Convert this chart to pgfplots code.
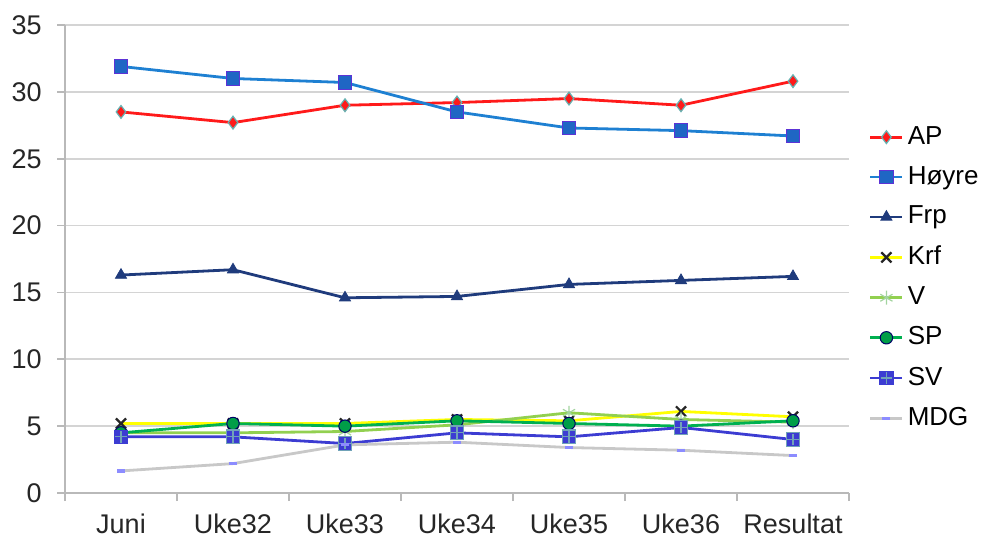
\documentclass[border=0pt]{standalone}
\usepackage{pgfplots}
\pgfplotsset{compat=1.18}
\usepackage{fontspec}
\setmainfont{Liberation Sans}
\definecolor{apred}{HTML}{FF1A1A}
\definecolor{hoyline}{HTML}{1E80D2}
\definecolor{hoyfill}{HTML}{1F66C4}
\definecolor{frpcol}{HTML}{1F3B7C}
\definecolor{krfcol}{HTML}{FFFF00}
\definecolor{vcol}{HTML}{92D050}
\definecolor{spcol}{HTML}{00B050}
\definecolor{svcol}{HTML}{3C3CD2}
\definecolor{mdgcol}{HTML}{C8C8C8}
\definecolor{gridc}{HTML}{D4D4D4}
\pgfdeclareplotmark{sqplus}{%
  \pgfpathrectangle{\pgfpoint{-\pgfplotmarksize}{-\pgfplotmarksize}}{\pgfpoint{2\pgfplotmarksize}{2\pgfplotmarksize}}%
  \pgfusepathqfillstroke
  \pgfsetstrokecolor{cyan!40!gray}%
  \pgfsetlinewidth{0.6bp}%
  \pgfpathmoveto{\pgfpoint{-0.85\pgfplotmarksize}{0pt}}\pgfpathlineto{\pgfpoint{0.85\pgfplotmarksize}{0pt}}%
  \pgfpathmoveto{\pgfpoint{0pt}{-0.85\pgfplotmarksize}}\pgfpathlineto{\pgfpoint{0pt}{0.85\pgfplotmarksize}}%
  \pgfusepathqstroke}
\begin{document}
\fontsize{13.5bp}{16bp}\selectfont
\begin{tikzpicture}
\begin{axis}[
  scale only axis, width=392bp, height=234bp,
  xmin=-0.5, xmax=6.5, ymin=0, ymax=35,
  ytick={0,5,...,35},
  xtick={0,...,6},
  xticklabels={Juni,Uke32,Uke33,Uke34,Uke35,Uke36,Resultat},
  minor xtick={-0.5,0.5,...,6.5},
  axis lines=left, axis line style={-, draw=gray!55, line width=0.8bp},
  tick align=outside,
  x tick style={draw=none},
  minor x tick style={draw=gray!55, line width=0.8bp},
  minor tick length=4bp,
  y tick style={draw=gray!55, line width=0.8bp},
  major tick length=4bp,
  ymajorgrids, grid style={gridc, line width=0.8bp},
  tick label style={font=\fontsize{13.5bp}{16bp}\selectfont, text=black!85},
  /pgf/number format/assume math mode=true,
  yticklabel style={xshift=-3bp},
  xticklabel style={yshift=-2bp},
  legend style={draw=none, fill=none, at={(1.025,0.46)}, anchor=west,
    font=\fontsize{13bp}{15bp}\selectfont, row sep=5bp, inner sep=0pt},
  legend cell align=left,
  legend image code/.code={\draw[mark repeat=2,mark phase=2] plot coordinates {(0bp,0bp) (8bp,0bp) (16bp,0bp)};},
  every axis plot/.append style={line width=1.4bp},
]
\addplot[apred, mark=diamond*, mark size=3.2bp, mark options={fill=apred, draw=teal!60, line width=0.6bp}]
  coordinates {(0,28.5) (1,27.7) (2,29.0) (3,29.2) (4,29.5) (5,29.0) (6,30.8)};
\addlegendentry{AP}
\addplot[hoyline, mark=square*, mark size=3.4bp, mark options={fill=hoyfill, draw=blue!60!violet!80, line width=0.6bp}]
  coordinates {(0,31.9) (1,31.0) (2,30.7) (3,28.5) (4,27.3) (5,27.1) (6,26.7)};
\addlegendentry{Høyre}
\addplot[frpcol, mark=triangle*, mark size=3.2bp, mark options={fill=frpcol, draw=frpcol, line width=0.4bp}]
  coordinates {(0,16.3) (1,16.7) (2,14.6) (3,14.7) (4,15.6) (5,15.9) (6,16.2)};
\addlegendentry{Frp}
\addplot[krfcol, mark=x, mark size=3.6bp, mark options={draw=black!85, line width=1.1bp}]
  coordinates {(0,5.2) (1,5.2) (2,5.2) (3,5.5) (4,5.4) (5,6.1) (6,5.7)};
\addlegendentry{Krf}
\addplot[vcol, mark=asterisk, mark size=3.5bp, mark options={draw=teal!30!vcol!60, line width=0.6bp}]
  coordinates {(0,4.5) (1,4.5) (2,4.6) (3,5.1) (4,6.0) (5,5.5) (6,5.3)};
\addlegendentry{V}
\addplot[spcol, mark=*, mark size=3.1bp, mark options={fill=spcol!90!black, draw=blue!40!black, line width=0.5bp}]
  coordinates {(0,4.5) (1,5.2) (2,5.0) (3,5.4) (4,5.2) (5,5.0) (6,5.4)};
\addlegendentry{SP}
\addplot[svcol, mark=sqplus, mark size=3.4bp, mark options={fill=svcol, draw=svcol, line width=0.5bp}]
  coordinates {(0,4.2) (1,4.2) (2,3.7) (3,4.5) (4,4.2) (5,4.9) (6,4.0)};
\addlegendentry{SV}
\addplot[mdgcol, mark=-, mark size=2bp, mark options={draw=blue!45, line width=1.6bp}]
  coordinates {(0,1.65) (1,2.2) (2,3.6) (3,3.8) (4,3.4) (5,3.2) (6,2.8)};
\addlegendentry{MDG}
\coordinate (bl) at (rel axis cs:0,0);
\coordinate (tr) at (rel axis cs:1,1);
\end{axis}
\pgfresetboundingbox
\path ([shift={(-32.5bp,-23bp)}]bl) rectangle ([shift={(67.5bp,12.5bp)}]tr);
\end{tikzpicture}
\end{document}
